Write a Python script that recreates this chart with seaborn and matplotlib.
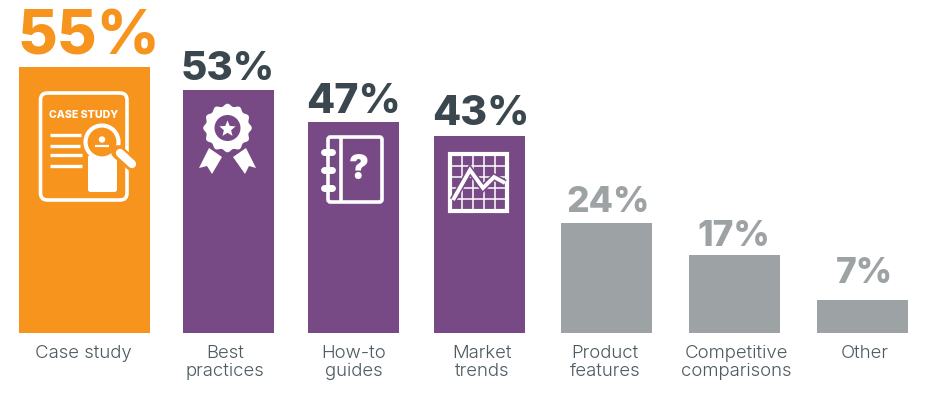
import numpy as np
import pandas as pd
import seaborn as sns
import matplotlib.pyplot as plt
from matplotlib.patches import FancyBboxPatch, Circle, Polygon, Rectangle

#Values
categories = ["Case study", "Best\npractices", "How-to\nguides", "Market\ntrends",
              "Product\nfeatures", "Competitive\ncomparisons", "Other"]
value_labels = ["55%", "53%", "47%", "43%", "24%", "17%", "7%"]
bar_heights = [58, 53, 46, 43, 24, 17, 7.2]  # first bar is drawn taller than its label says

#Layout, in pixels
W, H = 939, 395
BASE = 333
PX_PER_UNIT = 4.585
bar_centers = [84.5, 228.5, 353.5, 479.5, 606.5, 734.5, 862.5]
bar_widths = [131, 91, 91, 91, 91, 91, 91]
tick_centers = [83.5, 225, 354, 482, 605, 736, 865]
label_centers = [89, 227.5, 353, 480.5, 608.5, 733.5, 864]

ORANGE = "#F7941E"
PURPLE = "#774A86"
GREY = "#9DA3A5"
DARK = "#3A474E"
bar_colors = [ORANGE, PURPLE, PURPLE, PURPLE, GREY, GREY, GREY]
label_colors = [ORANGE, DARK, DARK, DARK, GREY, GREY, GREY]
label_sizes = [44, 29, 29.5, 29.5, 25.5, 25.5, 25.5]
label_pads = [13, 10, 9, 11, 11, 9, 17]

sns.set_theme(style="white")
plt.rcParams["font.family"] = ["Inter", "DejaVu Sans"]

df = pd.DataFrame({"pos": bar_centers, "height": bar_heights, "category": categories})

fig = plt.figure(figsize=(W / 100, H / 100), dpi=100)
ax = fig.add_axes([0, (H - BASE) / H, 1, BASE / H])
sns.barplot(data=df, x="pos", y="height", hue="category", palette=bar_colors,
            native_scale=True, dodge=False, legend=False, saturation=1, linewidth=0, ax=ax)
ax.set_xlim(0, W)
ax.set_ylim(0, BASE / PX_PER_UNIT)

for patch, c, w in zip(ax.patches, bar_centers, bar_widths):
    patch.set_x(c - w / 2)
    patch.set_width(w)

for c, h, txt, col, size, pad in zip(label_centers, bar_heights, value_labels,
                                     label_colors, label_sizes, label_pads):
    ax.annotate(txt, (c, h), xytext=(0, pad), textcoords="offset pixels", ha="center",
                va="baseline", color=col, fontsize=size, fontweight=800,
                annotation_clip=False)

ax.set_xticks(tick_centers)
ax.set_xticklabels(categories, fontsize=13.4, fontweight=300, color="#4D5A60", linespacing=1.1)
ax.tick_params(axis="x", length=0, pad=8.5)
ax.set_xlabel("")
ax.set_ylabel("")
ax.set_yticks([])
sns.despine(ax=ax, left=True, bottom=True)

#Icons, drawn on a pixel overlay
ov = fig.add_axes([0, 0, 1, 1], zorder=5)
ov.set_xlim(0, W)
ov.set_ylim(H, 0)
ov.axis("off")
ov.patch.set_alpha(0)


def rbox(x0, y0, x1, y1, r, fc="none", ec="white", lw=2.2):
    ov.add_patch(FancyBboxPatch((x0 + r, y0 + r), x1 - x0 - 2 * r, y1 - y0 - 2 * r,
                                boxstyle=f"round,pad={r}", fc=fc, ec=ec, lw=lw))


def line(xs, ys, lw, color="white", cap="round", join="miter"):
    ov.plot(xs, ys, color=color, lw=lw, solid_capstyle=cap, solid_joinstyle=join)


#Case study document
rbox(40.5, 93, 127, 200, 7, lw=2.6)
ov.text(83.5, 115, "CASE STUDY", color="white", fontsize=7.6, fontweight=800, ha="center",
        va="center")
for y, x1 in zip([135, 145.5, 155, 165.5], [81, 80, 82, 82]):
    line([50, x1], [y, y], 2.4, cap="butt")
rbox(88, 155, 117, 192, 2.5, fc="white", lw=0)
line([118, 133], [152, 165], 10, color=ORANGE)
line([120, 132], [153, 164], 6)
ov.add_patch(Circle((102, 142), 16.5, fc=ORANGE, ec="white", lw=3))
ov.add_patch(Circle((102, 139.5), 3.2, fc="white", ec="none"))
line([95, 109], [146, 146], 1.6, cap="butt")

#Best practices rosette
angles = np.linspace(0, 2 * np.pi, 240)
radii = 23 + 1.3 * np.cos(12 * angles)
ov.add_patch(Polygon(np.c_[227.5 + radii * np.cos(angles), 128 + radii * np.sin(angles)],
                     fc="white", ec="none"))
ov.add_patch(Circle((227.5, 128), 13, fc=PURPLE, ec="none"))
star_a = -np.pi / 2 + np.arange(10) * np.pi / 5
star_r = np.where(np.arange(10) % 2 == 0, 8.5, 3.8)
ov.add_patch(Polygon(np.c_[227.5 + star_r * np.cos(star_a), 129 + star_r * np.sin(star_a)],
                     fc="white", ec="none"))
for pts in ([(209, 148), (222, 157), (212, 174), (207, 166), (199, 168)],
            [(246, 148), (233, 157), (245, 174), (249, 166), (256, 168)]):
    ov.add_patch(Polygon(pts, fc="white", ec="none"))

#How-to notebook
rbox(328, 137, 382, 202, 2.5, lw=2.6)
line([341, 341], [137, 202], 2.6, cap="butt")
for y in [152, 170, 188]:
    line([324, 332], [y, y], 5)
ov.text(359, 170, "?", color="white", fontsize=24, fontweight=900, ha="center", va="center")

#Market trends grid
ov.add_patch(Rectangle((450, 154), 57, 57, fc="none", ec="white", lw=3))
for x in [462, 473, 484, 495]:
    line([x, x], [154, 211], 1.1, cap="butt")
for y in [166, 177, 188, 199]:
    line([450, 507], [y, y], 1.1, cap="butt")
trend_x = [453, 470, 483, 494, 505]
trend_y = [200, 170, 188, 177, 183]
line(trend_x, trend_y, 5, color=PURPLE, cap="butt")
line(trend_x, trend_y, 2.8, cap="butt")

fig.savefig("out.png", dpi=100)
